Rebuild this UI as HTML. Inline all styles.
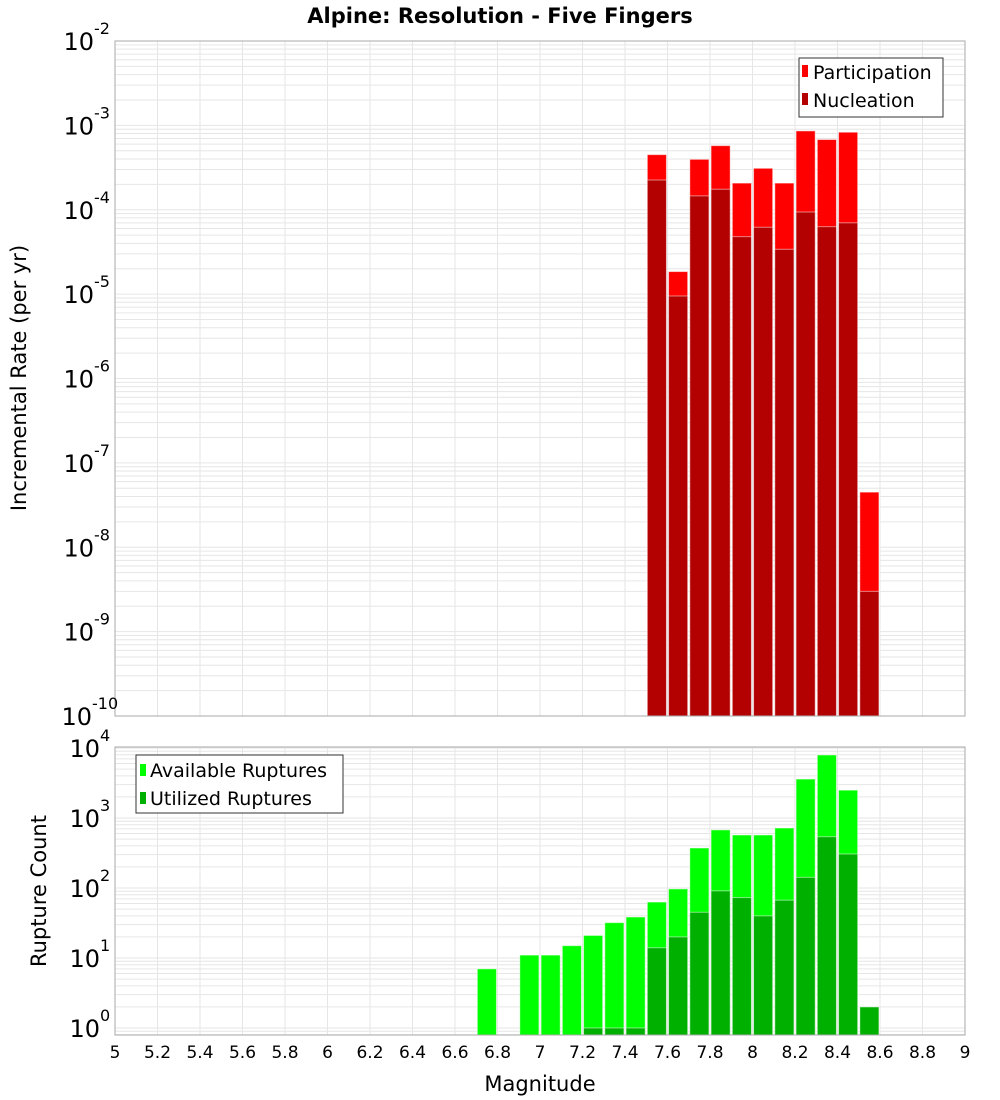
<!DOCTYPE html>
<html><head><meta charset="utf-8"><style>
body{margin:0;background:#fff}
svg{display:block;font-family:"DejaVu Sans","Liberation Sans",sans-serif}
</style></head><body>
<svg id="c" width="1000" height="1100" xmlns="http://www.w3.org/2000/svg">
<text x="500" y="23" text-anchor="middle" font-size="21" font-weight="bold">Alpine: Resolution - Five Fingers</text>
<g id="top"></g>
<g id="bot"></g>
<text x="540" y="1091" text-anchor="middle" font-size="21">Magnitude</text>
<text transform="translate(26,378) rotate(-90)" text-anchor="middle" font-size="21">Incremental Rate (per yr)</text>
<text transform="translate(46,891) rotate(-90)" text-anchor="middle" font-size="21">Rupture Count</text>
</svg>
<script>
const mags = [6.75,6.95,7.05,7.15,7.25,7.35,7.45,7.55,7.65,7.75,7.85,7.95,8.05,8.15,8.25,8.35,8.45,8.55];
const available = [7,11,11,15,21,32,38.5,63,97,373,676,572,572,720,3600,7950,2500,0];
const utilized = [0,0,0,0,1,1,1,14,20,45,91,73,40,67,142,540,306,2];
const rateMags = [7.55,7.65,7.75,7.85,7.95,8.05,8.15,8.25,8.35,8.45,8.55];
const participation = [4.5e-4,1.85e-5,3.96e-4,5.75e-4,2.07e-4,3.1e-4,2.07e-4,8.6e-4,6.8e-4,8.3e-4,4.5e-8];
const nucleation = [2.25e-4,9.5e-6,1.46e-4,1.75e-4,4.8e-5,6.2e-5,3.4e-5,9.4e-5,6.3e-5,7.0e-5,3.0e-9];
const xTicks = [5,5.2,5.4,5.6,5.8,6,6.2,6.4,6.6,6.8,7,7.2,7.4,7.6,7.8,8,8.2,8.4,8.6,8.8,9];
const topExps = [-2,-3,-4,-5,-6,-7,-8,-9,-10];
const botExps = [4,3,2,1,0];

const NS="http://www.w3.org/2000/svg";
const X0=115,X1=965;
const xs=m=>X0+(m-5)/4*(X1-X0);
const T={top:41,bot:716,lo:-10,hi:-2};
const B={top:747,bot:1035,y0:1028,ppd:70};
const ty=v=>T.top+(T.hi-Math.log10(v))/(T.hi-T.lo)*(T.bot-T.top);
const by=v=>B.y0-Math.log10(v)*B.ppd;
function mk(p,tag,a){const e=document.createElementNS(NS,tag);for(const k in a)e.setAttribute(k,a[k]);p.appendChild(e);return e;}

function frame(g,top,bot,ypos,lo,hi,name){
  mk(g,'rect',{x:X0,y:top,width:X1-X0,height:bot-top,fill:'#fff'});
  for(let d=lo;d<=hi;d++)for(let k=1;k<10;k++){
    const y=ypos(k*Math.pow(10,d));
    if(y<top-0.5||y>bot+0.5)continue;
    const l=mk(g,'line',{x1:X0,x2:X1,y1:y,y2:y,stroke:'#e6e6e6','stroke-width':1});
    
    
  }
  xTicks.forEach(t=>{const l=mk(g,'line',{x1:xs(t),x2:xs(t),y1:top,y2:bot,stroke:'#e6e6e6','stroke-width':1});
    
    });
}
function border(g,top,bot){mk(g,'rect',{x:X0,y:top,width:X1-X0,height:bot-top,fill:'none',stroke:'#aaa','stroke-width':1});}
function bar(g,m,yTop,yBot,fill,name){
  const r=mk(g,'rect',{x:xs(m-0.045),y:yTop,width:xs(m+0.045)-xs(m-0.045),height:Math.max(0,yBot-yTop),fill:fill,stroke:'#fff','stroke-opacity':0.5,'stroke-width':1});
  
  
}
function ylabel(g,x,y,exp,name){
  const t=mk(g,'text',{x:x,y:y+9,'text-anchor':'end','font-size':24});
  
  
  t.textContent='10';
  const s=mk(g,'text',{x:x,y:y-7,'font-size':16});
  
  
  s.textContent=String(exp);
}
// top
const gt=document.getElementById('top');
frame(gt,T.top,T.bot,ty,-10,-3,'top');
rateMags.forEach((m,i)=>{bar(gt,m,ty(participation[i]),T.bot,'#ff0000','participation-bar');});
rateMags.forEach((m,i)=>{bar(gt,m,ty(nucleation[i]),T.bot,'#b30000','nucleation-bar');});
border(gt,T.top,T.bot);
topExps.forEach(e=>ylabel(gt,e<=-10?92:94,ty(Math.pow(10,e)),e,'top-y-tick-label'));
// top legend
const lt=mk(gt,'g',{});


mk(lt,'rect',{x:799,y:58,width:144,height:59,fill:'#fff',stroke:'#333','stroke-width':1});
[['Participation','#ff0000',73],['Nucleation','#b30000',101]].forEach(([n,c,y])=>{
  const r=mk(lt,'rect',{x:802,y:y-8,width:6,height:12,fill:c});
  
  
  const t=mk(lt,'text',{x:813,y:y+6,'font-size':19});
  
  
  t.textContent=n;
});
// bottom
const gb=document.getElementById('bot');
frame(gb,B.top,B.bot,by,-1,4,'bottom');
mags.forEach((m,i)=>{if(available[i]>0)bar(gb,m,by(available[i]),B.bot,'#00ff00','available-bar');});
mags.forEach((m,i)=>{if(utilized[i]>0)bar(gb,m,by(utilized[i]),B.bot,'#00b000','utilized-bar');});
border(gb,B.top,B.bot);
botExps.forEach(e=>ylabel(gb,100,by(Math.pow(10,e)),e,'bottom-y-tick-label'));
const lb=mk(gb,'g',{});


mk(lb,'rect',{x:136,y:755,width:207,height:58,fill:'#fff',stroke:'#333','stroke-width':1});
[['Available Ruptures','#00ff00',770],['Utilized Ruptures','#00b000',798]].forEach(([n,c,y])=>{
  const r=mk(lb,'rect',{x:140,y:y-6,width:6,height:12,fill:c});
  
  
  const t=mk(lb,'text',{x:150,y:y+7,'font-size':19});
  
  
  t.textContent=n;
});
xTicks.forEach(t=>{
  const e=mk(gb,'text',{x:xs(t),y:1058,'text-anchor':'middle','font-size':17});
  
  
  e.textContent=String(t);
});
</script>
</body></html>
